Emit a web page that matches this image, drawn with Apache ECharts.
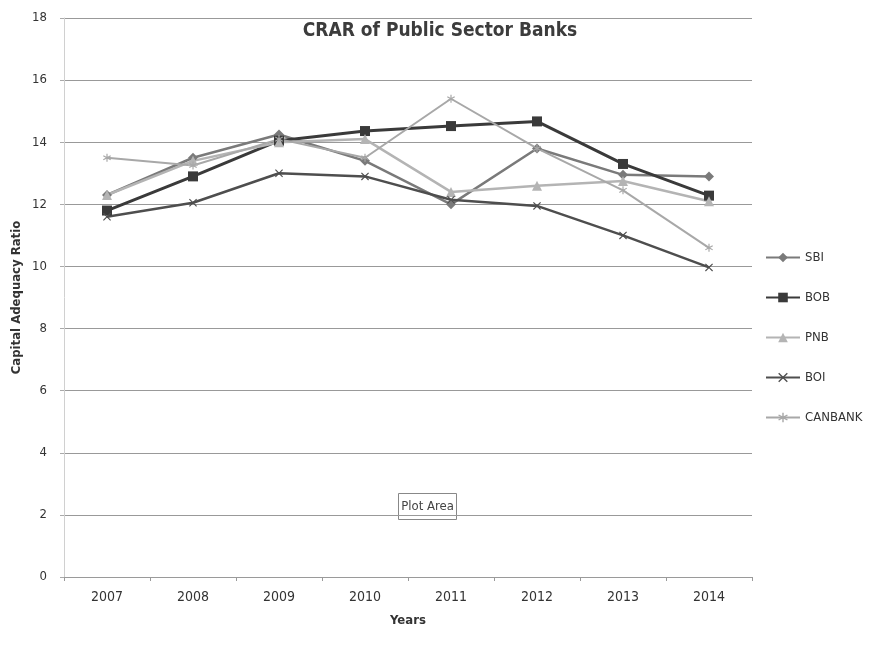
<!DOCTYPE html>
<html><head><meta charset="utf-8">
<script src="https://cdn.jsdelivr.net/npm/echarts@6/dist/echarts.min.js"></script>
<style>html,body{margin:0;padding:0;background:#fff}#c{width:882px;height:645px}</style>
</head><body><div id="c"></div>
<script>
var years = ['2007','2008','2009','2010','2011','2012','2013','2014'];
var sbi     = [12.3, 13.5, 14.25, 13.4, 12.0, 13.8, 12.95, 12.9];
var bob     = [11.8, 12.9, 14.05, 14.36, 14.52, 14.67, 13.3, 12.28];
var pnb     = [12.3, 13.4, 14.0, 14.1, 12.4, 12.6, 12.75, 12.1];
var boi     = [11.6, 12.05, 13.0, 12.9, 12.15, 11.95, 11.0, 9.97];
var canbank = [13.5, 13.25, 14.1, 13.5, 15.4, 13.8, 12.45, 10.6];
var yTicks = [0, 2, 4, 6, 8, 10, 12, 14, 16, 18];

var FONT = "'DejaVu Sans Condensed', 'Liberation Sans Narrow', 'Liberation Sans', Arial, sans-serif";
var xPath = 'path://M0,1L1,0L5,4L9,0L10,1L6,5L10,9L9,10L5,6L1,10L0,9L4,5Z';
var starPath = 'path://M4.3,0H5.7V3.8L9,1.8L9.7,3L6.4,5L9.7,7L9,8.2L5.7,6.2V10H4.3V6.2L1,8.2L0.3,7L3.6,5L0.3,3L1,1.8L4.3,3.8Z';

function mk(name, data, color, symbol, size, width) {
  return {
    name: name, type: 'line', data: data, symbol: symbol, symbolSize: size,
    showSymbol: true,
    lineStyle: {color: color, width: width},
    itemStyle: {color: color},
    emphasis: {disabled: true}
  };
}

var chart = echarts.init(document.getElementById('c'), null, {renderer: 'canvas'});
chart.setOption({
  animation: false,
  backgroundColor: '#ffffff',
  title: {
    text: 'CRAR of Public Sector Banks', left: 435, top: 17, textAlign: 'center',
    textStyle: {fontFamily: FONT, fontSize: 19, fontWeight: 'bold', color: '#3c3c3c'}
  },
  legend: {
    orient: 'vertical', left: 760, top: 246, itemGap: 27, itemWidth: 34, itemHeight: 12,
    textStyle: {fontFamily: FONT, fontSize: 13, color: '#333'},
    data: ['SBI', 'BOB', 'PNB', 'BOI', 'CANBANK']
  },
  grid: {left: 64, right: 130, top: 18, bottom: 68, containLabel: false},
  xAxis: {
    type: 'category', data: years, boundaryGap: true,
    name: 'Years', nameLocation: 'middle', nameGap: 37, nameMoveOverlap: false,
    nameTextStyle: {fontFamily: FONT, fontSize: 13, fontWeight: 'bold', color: '#333'},
    axisLine: {lineStyle: {color: '#9a9a9a'}},
    axisTick: {show: true, alignWithLabel: false, length: 4, lineStyle: {color: '#9a9a9a'}},
    axisLabel: {fontFamily: FONT, fontSize: 14, color: '#333', margin: 13}
  },
  yAxis: {
    type: 'value', min: yTicks[0], max: yTicks[yTicks.length - 1], interval: 2,
    name: 'Capital Adequacy Ratio', nameLocation: 'middle', nameGap: 41, nameMoveOverlap: false,
    nameTextStyle: {fontFamily: FONT, fontSize: 13, fontWeight: 'bold', color: '#333'},
    axisLine: {show: true, lineStyle: {color: '#d0d0d0'}},
    axisTick: {show: true, length: 4, lineStyle: {color: '#aaa'}},
    axisLabel: {fontFamily: FONT, fontSize: 13, color: '#333', margin: 17},
    splitLine: {lineStyle: {color: '#999', width: 1}}
  },
  graphic: [{
    type: 'group', left: 398, top: 493,
    children: [
      {type: 'rect', shape: {x: 0, y: 0, width: 58, height: 26}, style: {fill: '#fff', stroke: '#888', lineWidth: 1}},
      {type: 'text', style: {x: 29, y: 13, text: 'Plot Area', align: 'center', verticalAlign: 'middle', fontFamily: FONT, fontSize: 13, fill: '#444'}}
    ]
  }],
  series: [
    mk('SBI', sbi, '#7a7a7a', 'diamond', 10, 2.5),
    mk('BOB', bob, '#3a3a3a', 'rect', 10, 3),
    mk('PNB', pnb, '#b4b4b4', 'triangle', 10, 2.5),
    mk('BOI', boi, '#4e4e4e', xPath, 8, 2.5),
    mk('CANBANK', canbank, '#a8a8a8', starPath, 8, 2)
  ]
});
</script>
</body></html>
